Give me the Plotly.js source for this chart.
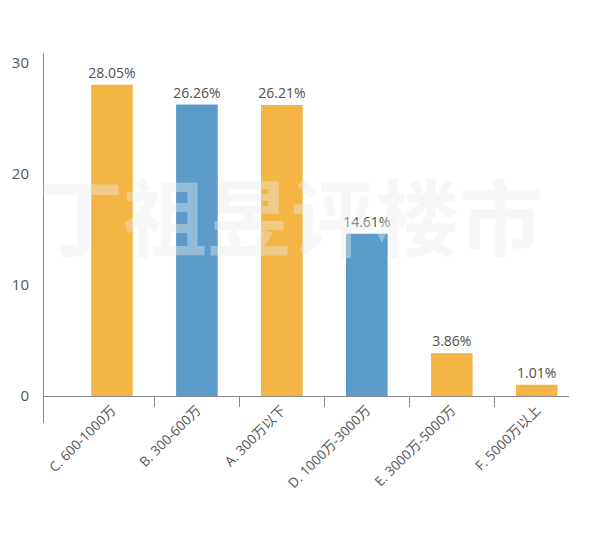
<!DOCTYPE html>
<html>
<head>
<meta charset="utf-8">
<script src="https://cdn.plot.ly/plotly-3.0.1.min.js"></script>
<style>html,body{margin:0;padding:0;background:#fff;}#chart{width:600px;height:544px;}</style>
</head>
<body>
<div id="chart"></div>
<script>
var categories = ["C. 600-1000万", "B. 300-600万", "A. 300万以下", "D. 1000万-3000万", "E. 3000万-5000万", "F. 5000万以上"];
var values = [28.05, 26.26, 26.21, 14.61, 3.86, 1.01];
var barColors = ["#F4B545", "#5A9BCA", "#F4B545", "#5A9BCA", "#F4B545", "#F4B545"];
var yTickVals = [0, 10, 20, 30];
var watermark = "丁祖昱评楼市";

var labels = values.map(function (v) { return v.toFixed(2) + "%"; });
var boundaries = categories.slice(1).map(function (c, i) { return i + 0.5; });

var trace = {
  type: "bar",
  x: categories,
  y: values,
  marker: { color: barColors },
  width: 0.49,
  text: labels,
  textposition: "outside",
  constraintext: "none",
  cliponaxis: false,
  textfont: { family: "'Open Sans', 'Noto Sans', sans-serif", size: 14, color: "#505050" },
  hoverinfo: "none"
};

var tickTrace = {
  type: "scatter",
  x: [],
  y: [],
  xaxis: "x2",
  yaxis: "y",
  showlegend: false,
  hoverinfo: "none"
};

var layout = {
  width: 600,
  height: 544,
  margin: { l: 44, r: 31, t: 53, b: 121 },
  paper_bgcolor: "#fff",
  plot_bgcolor: "#fff",
  showlegend: false,
  font: { family: "'Open Sans', 'Noto Sans CJK SC', sans-serif", color: "#555" },
  xaxis: {
    type: "category",
    range: [-0.80, 5.38],
    anchor: "free",
    position: 0.073,
    showline: true,
    linecolor: "#8a8a8a",
    linewidth: 1,
    ticks: "",
    tickangle: -45,
    tickfont: { family: "'Open Sans', 'Noto Sans CJK SC', sans-serif", size: 13.5, color: "#555" },
    showgrid: false,
    zeroline: false,
    fixedrange: true
  },
  xaxis2: {
    type: "linear",
    overlaying: "x",
    range: [-0.80, 5.38],
    anchor: "free",
    position: 0.073,
    side: "bottom",
    showline: false,
    tickmode: "array",
    tickvals: boundaries,
    ticks: "outside",
    ticklen: 10,
    tickcolor: "#8a8a8a",
    tickwidth: 1,
    showticklabels: false,
    showgrid: false,
    zeroline: false
  },
  yaxis: {
    range: [-2.43, 30.9],
    domain: [0, 1],
    showline: true,
    linecolor: "#8a8a8a",
    linewidth: 1,
    tickmode: "array",
    tickvals: yTickVals,
    ticks: "",
    ticklabelstandoff: 11,
    tickfont: { family: "'Open Sans', 'Noto Sans', sans-serif", size: 15, color: "#555" },
    showgrid: false,
    zeroline: false,
    fixedrange: true
  },
  annotations: [{
    text: watermark,
    xref: "paper",
    yref: "paper",
    x: 0.47,
    y: 0.565,
    xanchor: "center",
    yanchor: "middle",
    showarrow: false,
    font: { family: "'Noto Sans CJK SC', sans-serif", size: 84, color: "rgba(236,236,236,0.4)", weight: 700 }
  }]
};

Plotly.newPlot("chart", [trace, tickTrace], layout, { displayModeBar: false, staticPlot: true });
</script>
</body>
</html>
